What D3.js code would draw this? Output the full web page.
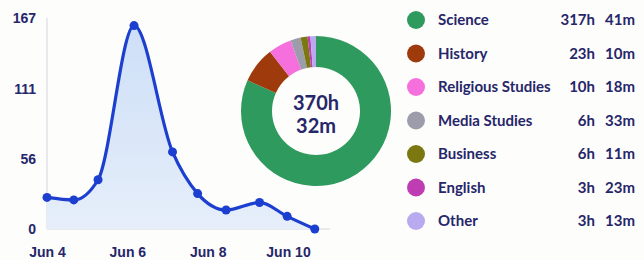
<!DOCTYPE html>
<html>
<head>
<meta charset="utf-8">
<script src="https://cdn.jsdelivr.net/npm/d3@7"></script>
<style>
  body { margin: 0; background: #fdfdfb; }
  svg { display: block; font-family: "Lato", "Open Sans", sans-serif; font-weight: 700; }
</style>
</head>
<body>
<div id="chart"></div>
<script>
// line chart data
var pointTimes = ["2024-06-04T00:00", "2024-06-04T16:00", "2024-06-05T06:30", "2024-06-06T04:00",
                  "2024-06-07T03:00", "2024-06-07T18:00", "2024-06-08T11:00", "2024-06-09T07:00",
                  "2024-06-09T23:30", "2024-06-10T16:00"];
var pointValues = [25, 23, 39, 161, 61, 28, 15, 21, 10, 0];
var yTicks = [0, 56, 111, 167];
var xTicks = ["2024-06-04", "2024-06-06", "2024-06-08", "2024-06-10"];

// donut / legend data
var subjects = ["Science", "History", "Religious Studies", "Media Studies", "Business", "English", "Other"];
var hours = [317, 23, 10, 6, 6, 3, 3];
var minutes = [41, 10, 18, 33, 11, 23, 13];
// slice shares (%) as drawn in the donut
var donutShare = [81.7, 7.8, 5.0, 2.2, 1.5, 0.6, 1.2];
var subjectColors = ["#2f9a5e", "#9e3a0c", "#f570dc", "#9d9cab", "#7b7812", "#bf3cb2", "#b9aaf0"];
var totalLabel = ["370h", "32m"];

var W = 644, H = 260;
var ink = "#26266a";
var parseT = d3.timeParse("%Y-%m-%dT%H:%M");
var parseD = d3.timeParse("%Y-%m-%d");

var svg = d3.select("#chart").append("svg").attr("width", W).attr("height", H);

var defs = svg.append("defs");
var grad = defs.append("linearGradient").attr("id", "areaFill")
    .attr("x1", 0).attr("y1", 0).attr("x2", 0).attr("y2", 1);
grad.append("stop").attr("offset", "0%").attr("stop-color", "#cddff7");
grad.append("stop").attr("offset", "100%").attr("stop-color", "#e6eefa");

// ---- line chart ----
var x = d3.scaleTime()
    .domain([parseD("2024-06-04"), parseD("2024-06-10")])
    .range([47, 288]);
var y = d3.scaleLinear().domain([0, 167]).range([229, 18]);

var pts = pointTimes.map(function (t, i) { return {t: parseT(t), v: pointValues[i]}; });

svg.append("line")
    .attr("x1", x.range()[0]).attr("x2", x.range()[0])
    .attr("y1", y(167)).attr("y2", y(0))
    .attr("stroke", "#d4d6de").attr("stroke-width", 1);
svg.append("line")
    .attr("x1", 47).attr("x2", 330)
    .attr("y1", y(0)).attr("y2", y(0))
    .attr("stroke", "#d4d6de").attr("stroke-width", 1);

var curve = d3.curveMonotoneX;
svg.append("path").datum(pts)
    .attr("fill", "url(#areaFill)")
    .attr("d", d3.area().curve(curve)
        .x(function (d) { return x(d.t); })
        .y0(y(0))
        .y1(function (d) { return y(d.v); }));

svg.append("path").datum(pts)
    .attr("fill", "none")
    .attr("stroke", "#1c3fcf")
    .attr("stroke-width", 3.2)
    .attr("stroke-linejoin", "round")
    .attr("d", d3.line().curve(curve)
        .x(function (d) { return x(d.t); })
        .y(function (d) { return y(d.v); }));

svg.selectAll("circle.pt").data(pts).enter().append("circle")
    .attr("class", "pt")
    .attr("cx", function (d) { return x(d.t); })
    .attr("cy", function (d) { return y(d.v); })
    .attr("r", 4.5)
    .attr("fill", "#1c3fcf");

var yAxis = svg.append("g")
    .attr("transform", "translate(36,0)")
    .call(d3.axisLeft(y).tickValues(yTicks).tickSize(0).tickPadding(0));
yAxis.select(".domain").remove();
yAxis.selectAll("text").attr("fill", ink).style("font-size", "14px").style("font-weight", 700)
    .attr("dy", "0.35em");

var xAxis = svg.append("g")
    .attr("transform", "translate(0,247)")
    .call(d3.axisBottom(x).tickValues(xTicks.map(parseD)).tickSize(0).tickPadding(0)
        .tickFormat(d3.timeFormat("Jun %-d")));
xAxis.select(".domain").remove();
xAxis.selectAll("text").attr("fill", ink).style("font-size", "14px").style("font-weight", 700)
    .attr("dy", "0.71em");

// ---- donut ----
var pie = d3.pie().sort(null)(donutShare);
var arc = d3.arc().innerRadius(44).outerRadius(75);
var donut = svg.append("g").attr("transform", "translate(316,111)");
donut.selectAll("path").data(pie).enter().append("path")
    .attr("d", arc)
    .attr("fill", function (d, i) { return subjectColors[i]; });
donut.selectAll("text").data(totalLabel).enter().append("text")
    .attr("text-anchor", "middle")
    .attr("y", function (d, i) { return -1 + i * 23; })
    .attr("fill", ink)
    .style("font-size", "20px")
    .style("font-weight", 700)
    .text(function (d) { return d; });

// ---- legend ----
var rowY = d3.scalePoint().domain(subjects).range([20, 221]);
var legend = svg.append("g");
var rows = legend.selectAll("g").data(subjects).enter().append("g")
    .attr("transform", function (d) { return "translate(0," + rowY(d) + ")"; });
rows.append("circle").attr("cx", 416).attr("r", 9)
    .attr("fill", function (d, i) { return subjectColors[i]; });
rows.append("text").attr("x", 438).attr("dy", "0.35em")
    .attr("fill", ink).style("font-size", "15px")
    .text(function (d) { return d; });
rows.append("text").attr("x", 595).attr("dy", "0.35em").attr("text-anchor", "end")
    .attr("fill", ink).style("font-size", "15px")
    .text(function (d, i) { return hours[i] + "h"; });
rows.append("text").attr("x", 635).attr("dy", "0.35em").attr("text-anchor", "end")
    .attr("fill", ink).style("font-size", "15px")
    .text(function (d, i) { return minutes[i] + "m"; });
</script>
</body>
</html>
